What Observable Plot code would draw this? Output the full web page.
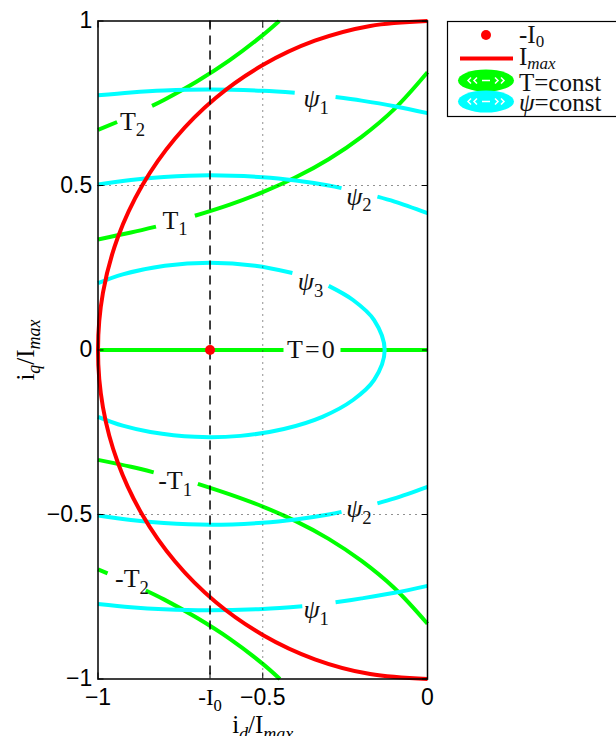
<!DOCTYPE html>
<html>
<head>
<meta charset="utf-8">
<script src="https://cdn.jsdelivr.net/npm/d3@7"></script>
<script src="https://cdn.jsdelivr.net/npm/@observablehq/plot@0.6"></script>
<style>
  html, body { margin: 0; padding: 0; background: #fff; }
  #chart { position: relative; width: 616px; height: 736px; overflow: hidden; }
  #legend { position: absolute; left: 0; top: 0; pointer-events: none; }
</style>
</head>
<body>
<div id="chart"></div>
<script>
// Normalised d/q current plane (i_d/I_max, i_q/I_max).
// -I0: the d-axis current that cancels the magnet flux.
const iZero = 0.66;
const iZeroPoint = [{ id: -0.66, iq: 0 }];

// Current limit circle I_max.
const imaxBoundary = [
  [0, -1], [-0.174, -0.985], [-0.342, -0.94], [-0.5, -0.866], [-0.643, -0.766],
  [-0.766, -0.643], [-0.866, -0.5], [-0.94, -0.342], [-0.985, -0.174], [-1, 0],
  [-0.985, 0.174], [-0.94, 0.342], [-0.866, 0.5], [-0.766, 0.643], [-0.643, 0.766],
  [-0.5, 0.866], [-0.342, 0.94], [-0.174, 0.985], [0, 1]
];

// Constant-flux curves (null = break left for the contour label).
const psi1Upper = [[-1, 0.774], [-0.9, 0.783], [-0.8, 0.789], [-0.66, 0.792], [-0.5, 0.788], [-0.403, 0.782], null,
  [-0.279, 0.769], [-0.2, 0.758], [-0.1, 0.741], [0, 0.72]];
const psi1Lower = [[-1, -0.772], [-0.9, -0.782], [-0.8, -0.788], [-0.66, -0.791], [-0.5, -0.787], [-0.38, -0.779], null,
  [-0.279, -0.767], [-0.2, -0.755], [-0.1, -0.738], [0, -0.717]];
const psi2Upper = [[-1, 0.503], [-0.9, 0.517], [-0.8, 0.526], [-0.66, 0.531], [-0.5, 0.525], [-0.4, 0.515],
  [-0.3, 0.5], [-0.261, 0.492], null, [-0.152, 0.466], [-0.1, 0.451], [0, 0.416]];
const psi2Lower = [[-1, -0.503], [-0.9, -0.517], [-0.8, -0.526], [-0.66, -0.531], [-0.5, -0.525], [-0.4, -0.515],
  [-0.3, -0.5], [-0.261, -0.492], null, [-0.152, -0.466], [-0.1, -0.451], [0, -0.416]];
const psi3Loop = [[-1, 0.203], [-0.925, 0.23], [-0.797, 0.256], [-0.66, 0.265], [-0.523, 0.256], [-0.41, 0.234], null,
  [-0.3, 0.195], [-0.226, 0.152], [-0.162, 0.091], [-0.13, 0], [-0.162, -0.091], [-0.226, -0.152],
  [-0.319, -0.203], [-0.436, -0.24], [-0.568, -0.261], [-0.706, -0.264], [-0.841, -0.249],
  [-0.925, -0.23], [-1, -0.203]];

// Constant-torque curves.
const t2Upper = [[-1, 0.669], [-0.942, 0.693], null, [-0.836, 0.742], [-0.8, 0.76], [-0.7, 0.816],
  [-0.6, 0.881], [-0.5, 0.957], [-0.45, 1]];
const t1Upper = [[-1, 0.336], [-0.9, 0.357], [-0.824, 0.375], null, [-0.706, 0.408], [-0.6, 0.442],
  [-0.5, 0.48], [-0.4, 0.525], [-0.3, 0.58], [-0.2, 0.648], [-0.1, 0.733], [0, 0.844]];
const tZero = [[-1, 0], [-0.437, 0], null, [-0.264, 0], [0, 0]];
const t1Lower = [[-1, -0.334], [-0.9, -0.355], [-0.831, -0.372], null, [-0.697, -0.407], [-0.6, -0.439],
  [-0.5, -0.476], [-0.4, -0.52], [-0.3, -0.574], [-0.2, -0.641], [-0.1, -0.724], [0, -0.832]];
const t2Lower = [[-1, -0.667], [-0.971, -0.679], null, [-0.855, -0.731], [-0.8, -0.758], [-0.7, -0.814],
  [-0.6, -0.878], [-0.5, -0.954], [-0.448, -1]];

// Contour labels and where they sit.
const labelText = ["T_2", "T_1", "ψ_1", "ψ_2", "ψ_3", "T\u200A=\u200A0", "-T_1", "ψ_2", "-T_2", "ψ_1"];
const labelId = [-0.895, -0.766, -0.338, -0.208, -0.355, -0.354, -0.766, -0.208, -0.897, -0.338];
const labelIq = [0.695, 0.394, 0.764, 0.467, 0.208, 0, -0.397, -0.482, -0.695, -0.79];

// Ticks and reference lines.
const xTicks = [-1, -iZero, -0.5, 0];
const yTicks = [-1, -0.5, 0, 0.5, 1];
const dottedX = [-0.5];
const dottedY = [-0.5, 0.5];

const GREEN = "#00ff00", CYAN = "#00ffff", RED = "#ff0000";
const SERIF = "'Liberation Serif', 'DejaVu Serif', 'Times New Roman', serif";
const SANS = "'Liberation Sans', Arial, Helvetica, sans-serif";
const NS = "http://www.w3.org/2000/svg";

const rows = (name, pts) => pts.map((p) => p ? { name, id: p[0], iq: p[1] } : { name, id: NaN, iq: NaN });
const torqueRows = [
  ...rows("T2", t2Upper), ...rows("T1", t1Upper), ...rows("T0", tZero),
  ...rows("-T1", t1Lower), ...rows("-T2", t2Lower)
];
const fluxRows = [
  ...rows("psi1u", psi1Upper), ...rows("psi2u", psi2Upper), ...rows("psi3", psi3Loop),
  ...rows("psi2l", psi2Lower), ...rows("psi1l", psi1Lower)
];
const imaxRows = rows("imax", imaxBoundary);
const labels = labelText.map((text, i) => ({ text, id: labelId[i], iq: labelIq[i] }));

const minus = (d) => String(d).replace("-", "\u2212");
const fmtX = (d) => (d === -iZero ? "-I_0" : minus(d));

const curve = { x: "id", y: "iq", z: "name", strokeWidth: 4, curve: "catmull-rom",
  strokeLinecap: "butt", strokeLinejoin: "round" };

const chart = Plot.plot({
  width: 616,
  height: 736,
  marginLeft: 97.5,
  marginRight: 189,
  marginTop: 20.5,
  marginBottom: 57.5,
  style: { fontFamily: SANS, fontSize: "23px", background: "#fff", overflow: "visible" },
  x: { domain: [-1, 0] },
  y: { domain: [-1, 1] },
  marks: [
    Plot.line(torqueRows, { ...curve, stroke: GREEN }),
    Plot.line(fluxRows, { ...curve, stroke: CYAN }),
    Plot.line(imaxRows, { ...curve, stroke: RED }),
    Plot.ruleX(dottedX, { stroke: "#222", strokeWidth: 1, strokeDasharray: "1,5" }),
    Plot.ruleY(dottedY, { stroke: "#222", strokeWidth: 1, strokeDasharray: "1,5" }),
    Plot.ruleX([-iZero], { stroke: "#111", strokeWidth: 1.6, strokeDasharray: "9,6" }),
    Plot.dot(iZeroPoint, { x: "id", y: "iq", r: 5, fill: RED, stroke: "none" }),
    Plot.text(labels, { x: "id", y: "iq", text: "text", fontFamily: SERIF, fontSize: 26,
      textAnchor: "middle", lineAnchor: "middle", fill: "#111" }),
    Plot.axisX({ anchor: "bottom", ticks: xTicks, tickFormat: fmtX, tickSize: -6, tickPadding: 15.5,
      label: null, fontSize: 23 }),
    Plot.axisX({ anchor: "top", ticks: xTicks, tickFormat: () => "", tickSize: -6, label: null }),
    Plot.axisY({ anchor: "left", ticks: yTicks, tickFormat: minus, tickSize: -6, tickPadding: 11.8,
      label: null, fontSize: 23 }),
    Plot.axisY({ anchor: "right", ticks: yTicks, tickFormat: () => "", tickSize: -6, label: null }),
    Plot.frame({ stroke: "#000", strokeWidth: 1.5 }),
    Plot.text(["i_d/I_{max}"], { text: (d) => d, frameAnchor: "bottom", lineAnchor: "middle", dy: 46,
      fontFamily: SERIF, fontSize: 25, textAnchor: "middle" }),
    Plot.text(["i_q/I_{max}"], { text: (d) => d, frameAnchor: "left", lineAnchor: "middle", dx: -72.5,
      rotate: -90, fontFamily: SERIF, fontSize: 25, textAnchor: "middle" })
  ]
});

const host = document.getElementById("chart");
host.appendChild(chart);

// Turn "X_n" / "X_{abc}" into subscripts, italic ψ and italic letter subscripts.
function setRich(el, s, size) {
  el.textContent = "";
  const shift = size * 0.26;
  let down = 0;
  s.split(/(_\{[^}]*\}|_[^{])/).filter(Boolean).forEach((p) => {
    if (p[0] === "_") {
      const sub = p[1] === "{" ? p.slice(2, -1) : p.slice(1);
      const t = document.createElementNS(NS, "tspan");
      t.textContent = sub;
      t.setAttribute("font-size", (size * 0.72).toFixed(1));
      t.setAttribute("dy", (shift - down).toFixed(1));
      down = shift;
      if (/[a-z]/i.test(sub)) t.setAttribute("font-style", "italic");
      el.appendChild(t);
    } else {
      p.split(/(ψ)/).filter(Boolean).forEach((q) => {
        const t = document.createElementNS(NS, "tspan");
        t.textContent = q;
        if (down) { t.setAttribute("dy", (-down).toFixed(1)); down = 0; }
        if (q === "ψ") t.setAttribute("font-style", "italic");
        el.appendChild(t);
      });
    }
  });
}

chart.querySelectorAll("text").forEach((el) => {
  const s = el.textContent;
  if (!/[_ψ]/.test(s)) return;
  const size = parseFloat(getComputedStyle(el).fontSize) || 23;
  if (s.includes("_")) el.setAttribute("font-family", SERIF);
  setRich(el, s, size);
});

// Legend box to the right of the axes.
const legend = document.createElementNS(NS, "svg");
legend.setAttribute("id", "legend");
legend.setAttribute("width", 616);
legend.setAttribute("height", 736);
legend.innerHTML = `
  <rect x="447.5" y="21.5" width="200" height="95" fill="#fff" stroke="#000" stroke-width="1.2"/>
  <circle cx="486" cy="35" r="5" fill="${RED}"/>
  <line x1="460" x2="513" y1="58.5" y2="58.5" stroke="${RED}" stroke-width="4"/>
  <g>
    <ellipse cx="486" cy="80.5" rx="28" ry="11" fill="${GREEN}"/>
    <path d="M471,77.5 l-3,3 l3,3 M477,77.5 l-3,3 l3,3 M501,77.5 l3,3 l-3,3 M495,77.5 l3,3 l-3,3 M482,80.5 h8"
      fill="none" stroke="#fff" stroke-width="1.5"/>
  </g>
  <g>
    <ellipse cx="486" cy="101.5" rx="28" ry="11" fill="${CYAN}"/>
    <path d="M471,98.5 l-3,3 l3,3 M477,98.5 l-3,3 l3,3 M501,98.5 l3,3 l-3,3 M495,98.5 l3,3 l-3,3 M482,101.5 h8"
      fill="none" stroke="#fff" stroke-width="1.5"/>
  </g>
  <g font-family="${SERIF}" font-size="25" fill="#111">
    <text x="519" y="43">-I<tspan font-size="17" dy="4">0</tspan></text>
    <text x="519" y="65">I<tspan font-size="17" dy="4" font-style="italic">max</tspan></text>
    <text x="519" y="91">T=const</text>
    <text x="519" y="111"><tspan font-style="italic">ψ</tspan>=const</text>
  </g>`;
host.appendChild(legend);
</script>
</body>
</html>
